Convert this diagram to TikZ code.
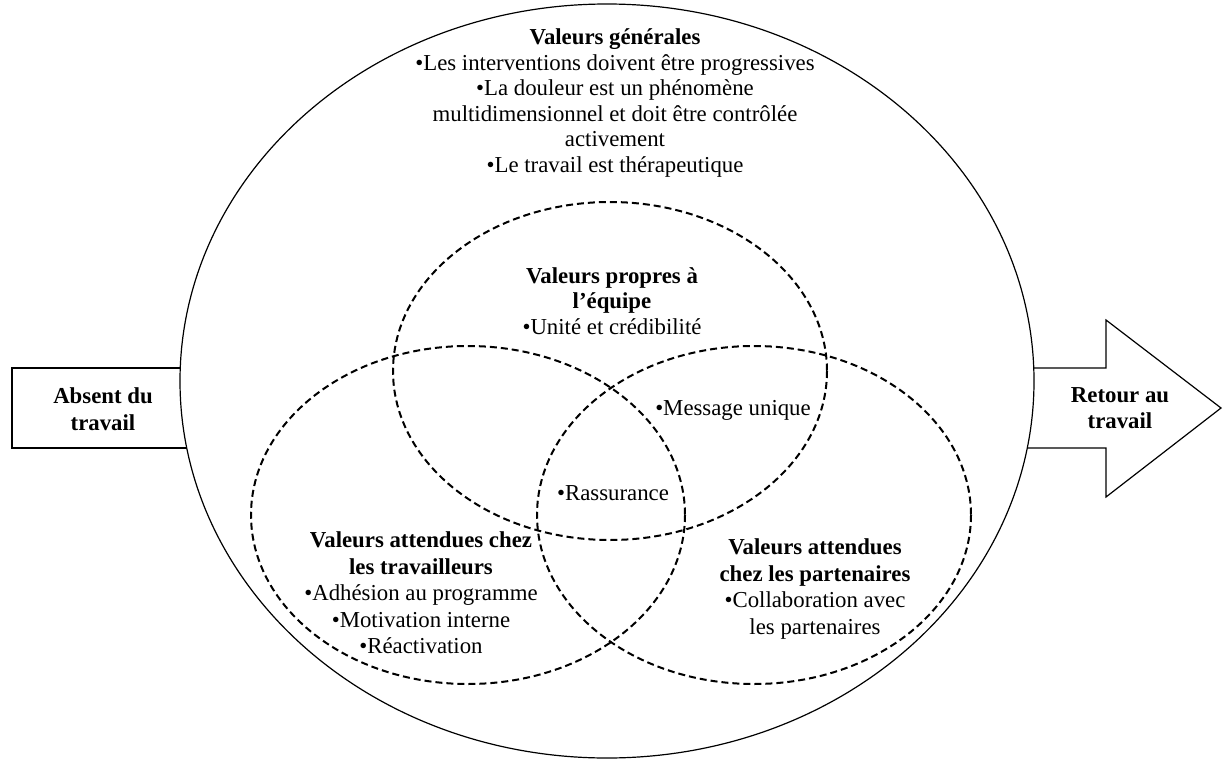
\documentclass[tikz,border=0pt]{standalone}
\usepackage{fontspec}
\setmainfont{Liberation Serif}
\begin{document}
\begin{tikzpicture}[x=1pt,y=-1pt,
  txt/.style={align=center, inner sep=0pt, font=\fontsize{22.8}{26.5}\selectfont},
  txttight/.style={txt, font=\fontsize{22.8}{25.6}\selectfont},
  frame/.style={draw, line width=1.2pt},
  outer/.style={draw, line width=1.2pt, fill=white},
  venn/.style={draw, line width=2pt, dash pattern=on 7pt off 4pt}]
\useasboundingbox (0,0) rectangle (1223,760);

% entry box and exit arrow (their inner ends are hidden by the big ellipse)
\draw[frame] (12,368) rectangle (200,448);
\draw[frame] (1000,368) -- (1106,368) -- (1106,320) -- (1221,408)
  -- (1106,497) -- (1106,448) -- (1000,448);

% general values
\filldraw[outer] (607,381) ellipse [x radius=427, y radius=377];

% three overlapping value sets
\draw[venn] (610,371) ellipse [x radius=217, y radius=169];
\draw[venn] (468,515) ellipse [x radius=217, y radius=169];
\draw[venn] (754,515) ellipse [x radius=217, y radius=169];

\node[txt] (absent) at (103,409) {\textbf{Absent du}\\\textbf{travail}};
\node[txt] (retour) at (1120,408) {\textbf{Retour au}\\\textbf{travail}};

\node[txttight] (generales) at (615,103) {\textbf{Valeurs générales}\\
  •Les interventions doivent être progressives\\
  •La douleur est un phénomène\\
  multidimensionnel et doit être contrôlée\\
  activement\\
  •Le travail est thérapeutique};

\node[txttight] (equipe) at (612,301) {\textbf{Valeurs propres à}\\
  \textbf{l’équipe}\\
  •Unité et crédibilité};

\node[txt] (message) at (733,410) {•Message unique};
\node[txt] (rassurance) at (613,493) {•Rassurance};

\node[txt] (travailleurs) at (421,593) {\textbf{Valeurs attendues chez}\\
  \textbf{les travailleurs}\\
  •Adhésion au programme\\
  •Motivation interne\\
  •Réactivation};

\node[txt] (partenaires) at (815,589) {\textbf{Valeurs attendues}\\
  \textbf{chez les partenaires}\\
  •Collaboration avec\\
  les partenaires};
\end{tikzpicture}
\end{document}
